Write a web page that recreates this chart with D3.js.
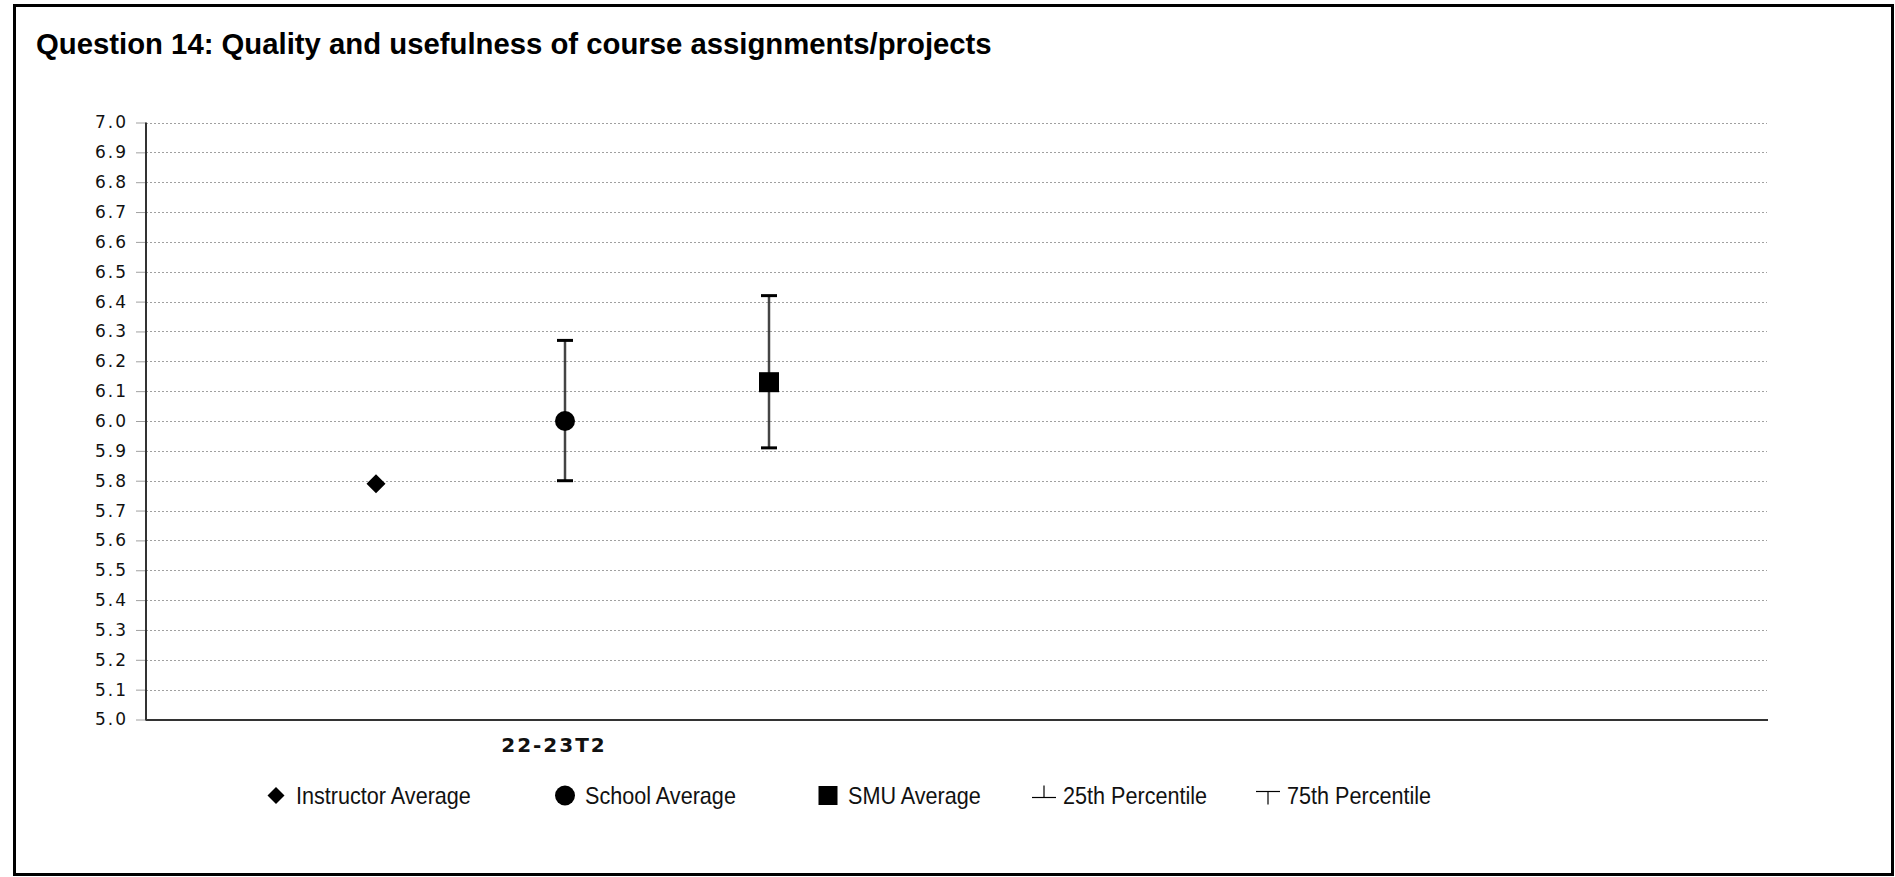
<!DOCTYPE html>
<html>
<head>
<meta charset="utf-8">
<script src="https://cdn.jsdelivr.net/npm/d3@7"></script>
<style>
  html, body { margin: 0; padding: 0; background: #fff; }
  svg { display: block; }
</style>
</head>
<body>
<svg id="chart" width="1895" height="877"></svg>
<script>
// ---- data ----
const title = "Question 14: Quality and usefulness of course assignments/projects";
const categories = ["22-23T2"];
const yTicks = [5.0, 5.1, 5.2, 5.3, 5.4, 5.5, 5.6, 5.7, 5.8, 5.9, 6.0, 6.1, 6.2, 6.3, 6.4, 6.5, 6.6, 6.7, 6.8, 6.9, 7.0];
const seriesNames = ["Instructor Average", "School Average", "SMU Average"];
const instructorAvg = [5.79];
const schoolAvg = [6.00];
const school25 = [5.80];
const school75 = [6.27];
const smuAvg = [6.13];
const smu25 = [5.91];
const smu75 = [6.42];
const legendLabels = ["Instructor Average", "School Average", "SMU Average", "25th Percentile", "75th Percentile"];

// ---- layout ----
const svg = d3.select("#chart");
const plot = { left: 146, right: 1768, top: 122.5, bottom: 719.5 };

// frame
svg.append("rect").attr("x", 14.5).attr("y", 5.5).attr("width", 1878).attr("height", 869)
  .attr("fill", "none").attr("stroke", "#000").attr("stroke-width", 3);

svg.append("text").attr("x", 36).attr("y", 53.5)
  .attr("font-family", "'Liberation Sans', Arial, sans-serif").attr("font-weight", "bold")
  .attr("font-size", 29.3).attr("fill", "#000").text(title);

const y = d3.scaleLinear().domain([5, 7]).range([plot.bottom, plot.top]);
const x = d3.scaleBand().domain(categories).range([plot.left, 960]);
const xs = d3.scaleOrdinal().domain(seriesNames).range([230, 419, 623]);

// gridlines
svg.append("g").selectAll("line").data(yTicks.filter(d => d > 5)).join("line")
  .attr("x1", plot.left).attr("x2", 1767)
  .attr("y1", d => Math.round(y(d)) + 0.5).attr("y2", d => Math.round(y(d)) + 0.5)
  .attr("stroke", "#a0a0a0").attr("stroke-width", 1).attr("stroke-dasharray", "2,2");

// y axis
const yAxis = d3.axisLeft(y).tickValues(yTicks).tickFormat(d3.format(".1f")).tickSize(10).tickPadding(8);
const gy = svg.append("g").attr("transform", `translate(${plot.left},0)`).call(yAxis);
gy.select(".domain").remove();
gy.selectAll(".tick line").attr("stroke", "#a0a0a0");
gy.selectAll(".tick text")
  .attr("font-family", "'DejaVu Sans', Verdana, sans-serif").attr("font-size", 17)
  .attr("letter-spacing", "2px").attr("fill", "#111");

// axis lines
svg.append("line").attr("x1", plot.left).attr("x2", plot.left).attr("y1", plot.top).attr("y2", plot.bottom + 1)
  .attr("stroke", "#333").attr("stroke-width", 2);
svg.append("line").attr("x1", plot.left).attr("x2", plot.right).attr("y1", 720).attr("y2", 720)
  .attr("stroke", "#333").attr("stroke-width", 2);

// x axis labels
const xAxis = d3.axisBottom(x).tickSize(0).tickPadding(18);
const gx = svg.append("g").attr("transform", "translate(0,720)").call(xAxis);
gx.select(".domain").remove();
gx.selectAll(".tick text")
  .attr("font-family", "'DejaVu Sans', Verdana, sans-serif").attr("font-weight", "bold")
  .attr("font-size", 20).attr("letter-spacing", "2px").attr("dx", "1px").attr("fill", "#111");

// marks
const cx = (i, s) => x(categories[i]) + xs(s);
const marks = svg.append("g");
categories.forEach((c, i) => {
  // error bars
  [[seriesNames[1], school25[i], school75[i]], [seriesNames[2], smu25[i], smu75[i]]].forEach(([s, lo, hi]) => {
    const px = cx(i, s);
    marks.append("line").attr("x1", px).attr("x2", px).attr("y1", y(lo)).attr("y2", y(hi))
      .attr("stroke", "#444").attr("stroke-width", 2.5);
    [lo, hi].forEach(v => {
      marks.append("line").attr("x1", px - 8).attr("x2", px + 8).attr("y1", y(v)).attr("y2", y(v))
        .attr("stroke", "#000").attr("stroke-width", 3);
    });
  });
  marks.append("path").attr("transform", `translate(${cx(i, seriesNames[0])},${y(instructorAvg[i])})`)
    .attr("d", "M0,-9.5L9.5,0L0,9.5L-9.5,0Z").attr("fill", "#000");
  marks.append("circle").attr("cx", cx(i, seriesNames[1])).attr("cy", y(schoolAvg[i])).attr("r", 10).attr("fill", "#000");
  marks.append("rect").attr("x", cx(i, seriesNames[2]) - 10).attr("y", y(smuAvg[i]) - 10)
    .attr("width", 20).attr("height", 20).attr("fill", "#000");
});

// legend
const legendX = [276, 565, 828, 1044, 1268];
const ly = 795.5;
const lg = svg.append("g");
legendLabels.forEach((lab, k) => {
  const g = lg.append("g").attr("transform", `translate(${legendX[k]},${ly})`);
  if (k === 0) g.append("path").attr("d", "M0,-8.5L8.5,0L0,8.5L-8.5,0Z").attr("fill", "#000");
  if (k === 1) g.append("circle").attr("r", 10).attr("fill", "#000");
  if (k === 2) g.append("rect").attr("x", -9.5).attr("y", -9.5).attr("width", 19).attr("height", 19).attr("fill", "#000");
  if (k === 3) {
    g.append("line").attr("x1", -12).attr("x2", 12).attr("y1", 2).attr("y2", 2).attr("stroke", "#000").attr("stroke-width", 1.2);
    g.append("line").attr("x1", 0).attr("x2", 0).attr("y1", -10).attr("y2", 2).attr("stroke", "#000").attr("stroke-width", 1.2);
  }
  if (k === 4) {
    g.append("line").attr("x1", -12).attr("x2", 12).attr("y1", -4).attr("y2", -4).attr("stroke", "#000").attr("stroke-width", 1.2);
    g.append("line").attr("x1", 0).attr("x2", 0).attr("y1", -4).attr("y2", 9).attr("stroke", "#000").attr("stroke-width", 1.2);
  }
  g.append("text").attr("transform", `translate(${k < 3 ? 20 : 19},8) scale(0.9,1)`)
    .attr("font-family", "'Liberation Sans', Arial, sans-serif")
    .attr("font-size", 24).attr("fill", "#111").text(lab);
});
</script>
</body>
</html>
